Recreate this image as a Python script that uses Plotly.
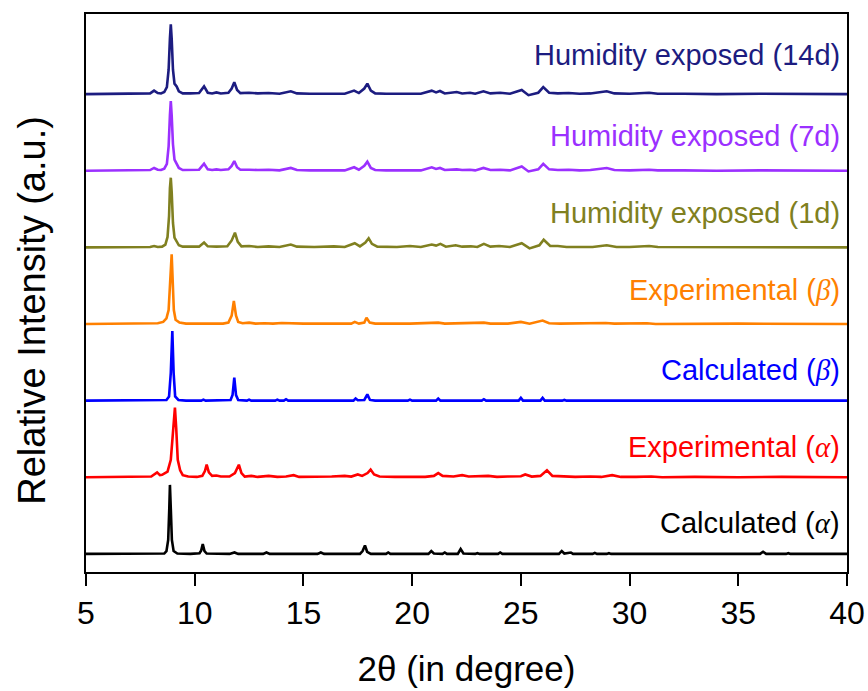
import plotly.graph_objects as go

# Powder XRD patterns: (2-theta in degrees, relative intensity) pairs traced along each pattern
calc_alpha = [
    (5.0, 0), (7.0, 0), (8.4, 0), (8.6, 0.5), (8.7, 4), (8.78, 20), (8.83, 65), (8.86, 99),
    (8.9, 65), (8.95, 20), (9.03, 4), (9.2, 0.5), (9.8, 0), (10.22, 1), (10.3, 5), (10.37, 14),
    (10.45, 4), (10.55, 0.5), (11.6, 0), (11.83, 2), (12.0, 0), (13.15, 0), (13.3, 2), (13.45, 0),
    (15.65, 0), (15.8, 2), (15.95, 0), (16.3, 0), (16.4, 1), (16.5, 0), (17.6, 0), (17.72, 4),
    (17.83, 12), (17.93, 3), (18.1, 0), (18.8, 0), (18.9, 2), (19.0, 0), (19.4, 0), (19.5, 1),
    (19.6, 0), (20.75, 0), (20.88, 4), (21.0, 0.5), (21.4, 0), (21.5, 2), (21.6, 0), (22.1, 0),
    (22.23, 7), (22.36, 0.5), (22.9, 0), (23.0, 1), (23.1, 0), (23.95, 0), (24.05, 2), (24.15, 0),
    (26.75, 0), (26.88, 4), (27.0, 0.5), (27.3, 2), (27.4, 0), (28.3, 0), (28.4, 1.5), (28.5, 0),
    (28.95, 0), (29.05, 1), (29.15, 0), (32.4, 0), (32.5, 1), (32.6, 0), (34.4, 0), (34.5, 1),
    (34.6, 0), (36.0, 0), (36.14, 3), (36.28, 0), (37.2, 0), (37.3, 1), (37.4, 0), (38.7, 0.5),
    (40.0, 0),
]

exp_alpha = [
    (5.0, 0), (6.2, 0.5), (7.0, 0), (7.6, 0.5), (8.0, 1), (8.27, 7), (8.4, 3), (8.5, 3.5),
    (8.75, 8), (8.9, 25), (9.0, 65), (9.09, 100), (9.15, 70), (9.22, 25), (9.33, 10), (9.45, 3),
    (9.7, 1), (10.1, 0.5), (10.35, 2), (10.47, 9), (10.55, 18), (10.65, 7), (10.8, 2), (11.0, 2.5),
    (11.2, 1), (11.6, 1), (11.85, 6), (12.03, 18), (12.15, 6), (12.3, 1), (12.6, 2), (12.9, 0.5),
    (13.4, 2), (13.8, 0.5), (14.2, 1), (14.55, 3), (14.8, 0.5), (15.6, 0.5), (16.3, 1), (16.9, 2),
    (17.2, 1), (17.5, 4), (17.7, 2), (17.95, 6), (18.09, 11), (18.25, 4), (18.5, 1), (19.2, 0.5),
    (20.0, 1), (20.6, 0.5), (21.0, 2), (21.2, 6), (21.4, 2), (21.6, 2), (21.9, 1), (22.3, 3),
    (22.6, 1), (23.5, 2), (23.9, 0.5), (24.4, 1), (25.0, 1.5), (25.2, 4), (25.5, 1), (25.9, 2),
    (26.2, 10), (26.45, 2), (26.9, 1.5), (27.5, 0.5), (28.2, 1), (28.7, 0.5), (29.2, 3), (29.6, 0.5),
    (30.3, 0.5), (31.0, 1), (31.5, 0), (33.0, 0.5), (35.0, 0), (37.0, 0.5), (40.0, 0),
]

calc_beta = [
    (5.0, 0), (6.9, 0), (7.0, 1), (7.1, 0), (7.6, 0), (7.7, 1), (7.8, 0), (8.3, 0),
    (8.4, 1), (8.5, 0), (8.7, 1), (8.82, 6), (8.9, 40), (8.97, 100), (9.03, 40), (9.1, 6),
    (9.25, 1), (9.6, 0), (10.3, 0), (10.4, 1.5), (10.5, 0), (11.65, 1), (11.74, 8), (11.82, 33),
    (11.9, 8), (12.0, 1), (12.4, 0), (12.5, 1.5), (12.6, 0), (13.7, 0), (13.8, 1.5), (13.9, 0),
    (14.1, 0), (14.2, 2), (14.3, 0), (17.3, 0), (17.4, 3), (17.5, 0.5), (17.8, 1), (17.94, 9),
    (18.06, 1), (18.3, 0), (19.8, 0), (19.9, 1.5), (20.0, 0), (21.1, 0), (21.2, 3), (21.3, 0),
    (23.2, 0), (23.3, 2), (23.4, 0), (24.9, 0), (25.0, 4), (25.1, 0), (25.9, 0), (26.0, 4),
    (26.1, 0), (26.9, 0), (27.0, 1), (27.1, 0), (28.8, 0), (28.9, 1), (29.0, 0), (30.7, 0),
    (30.8, 1), (30.9, 0), (40.0, 0),
]

exp_beta = [
    (5.0, 0), (6.5, 0.5), (7.5, 0), (8.0, 0.5), (8.3, 1), (8.55, 3), (8.7, 8), (8.8, 20),
    (8.87, 55), (8.94, 100), (8.99, 60), (9.04, 20), (9.12, 6), (9.3, 2), (9.6, 0.5), (10.2, 0.5),
    (10.4, 1.5), (10.6, 0.5), (11.0, 1), (11.3, 0.5), (11.55, 2), (11.7, 12), (11.8, 33), (11.9, 12),
    (12.0, 3), (12.2, 1), (12.5, 2), (12.8, 0.5), (13.2, 1), (13.6, 0.5), (14.0, 1.5), (14.5, 1),
    (15.0, 0.5), (16.4, 0.5), (17.2, 0.5), (17.36, 3), (17.55, 0.5), (17.8, 2), (17.9, 9), (18.05, 2),
    (18.3, 0.5), (19.9, 0.5), (21.2, 2), (21.5, 0.5), (23.3, 2), (23.6, 0.5), (24.0, 1), (24.4, 0.5),
    (25.0, 3), (25.4, 0.5), (26.0, 5), (26.3, 1), (26.8, 0.5), (27.5, 1), (28.0, 0.5), (28.9, 1.5),
    (29.3, 0.5), (30.8, 1), (31.2, 0), (35.0, 0.5), (40.0, 0),
]

humid_1d = [
    (5.0, 0), (6.3, 0.5), (7.0, 0), (7.8, 0.5), (7.95, 0.5), (8.13, 2), (8.3, 0.5), (8.5, 1),
    (8.65, 4), (8.75, 15), (8.82, 45), (8.86, 85), (8.9, 100), (8.94, 80), (9.0, 35), (9.07, 14),
    (9.17, 9), (9.27, 3), (9.45, 1), (10.2, 1), (10.43, 7), (10.6, 1.5), (11.0, 1), (11.5, 1.5),
    (11.7, 10), (11.85, 21), (11.98, 8), (12.15, 1.5), (12.5, 2), (12.9, 0.5), (13.4, 1.5), (13.9, 0.5),
    (14.42, 4), (14.7, 1), (15.5, 0.5), (16.4, 1.5), (16.9, 0.5), (17.36, 6), (17.6, 1.5), (17.85, 7),
    (18.0, 13), (18.15, 5), (18.4, 1), (19.3, 0.5), (19.9, 2), (20.4, 0.5), (20.9, 4), (21.1, 2.5),
    (21.3, 5), (21.55, 1), (22.0, 3), (22.3, 1), (22.7, 1.5), (23.0, 0.5), (23.3, 5), (23.6, 1),
    (24.0, 2), (24.5, 0.5), (25.04, 6), (25.4, -1.5), (25.85, 3), (26.05, 11), (26.35, 2), (26.7, 2),
    (27.1, 0.5), (27.8, 1), (28.3, 0.5), (28.95, 3), (29.4, 0.5), (30.0, 0.5), (30.9, 2), (31.3, 0.5),
    (33.0, 0.5), (35.0, 0), (37.0, 0.5), (40.0, 0),
]

humid_7d = [
    (5.0, 0), (6.0, 0.5), (7.0, 0), (7.6, 0.5), (7.95, 1), (8.13, 4), (8.3, 1.5), (8.45, 1),
    (8.6, 3), (8.72, 10), (8.8, 35), (8.86, 80), (8.9, 100), (8.94, 80), (9.0, 38), (9.07, 16),
    (9.17, 10), (9.27, 4), (9.45, 1), (9.8, 1), (10.2, 1.5), (10.43, 10), (10.6, 2), (10.8, 1),
    (11.0, 2), (11.2, 1), (11.55, 2), (11.7, 7), (11.82, 14), (11.95, 5), (12.1, 1.5), (12.5, 1.5),
    (12.9, 1), (13.4, 1.5), (13.9, 0.5), (14.42, 4), (14.7, 1), (15.3, 0.5), (16.0, 0.5), (16.4, 1.5),
    (16.9, 0.5), (17.33, 5), (17.55, 1.5), (17.8, 7), (17.94, 13), (18.1, 4), (18.3, 1), (18.8, 0.5),
    (19.3, 0.5), (19.9, 1), (20.4, 0.5), (20.9, 5), (21.1, 2.5), (21.28, 4), (21.5, 1), (22.05, 2),
    (22.3, 1), (22.66, 1.5), (22.9, 0.5), (23.28, 4), (23.6, 1), (24.05, 1.5), (24.5, 0.5), (25.04, 6),
    (25.35, -1), (25.8, 2), (26.03, 10), (26.3, 2), (26.7, 1), (27.2, 1.5), (27.7, 0.5), (28.2, 1),
    (28.95, 4), (29.3, 1), (30.0, 0.5), (30.9, 1.5), (31.3, 0.5), (32.5, 0.5), (34.0, 0), (36.0, 0.5),
    (38.0, 0), (40.0, 0),
]

humid_14d = [
    (5.0, 0), (6.0, 0.5), (7.0, 0), (7.6, 0.5), (7.95, 1), (8.13, 5), (8.3, 1.5), (8.45, 1),
    (8.6, 3), (8.72, 10), (8.8, 35), (8.86, 80), (8.9, 100), (8.94, 80), (9.0, 35), (9.07, 15),
    (9.17, 11), (9.27, 4), (9.45, 1), (9.8, 1), (10.2, 1.5), (10.43, 11), (10.6, 2), (10.8, 1),
    (11.0, 2.5), (11.2, 1), (11.55, 2), (11.7, 8), (11.82, 17), (11.95, 6), (12.1, 1.5), (12.5, 2),
    (12.9, 1), (13.4, 1.5), (13.9, 0.5), (14.42, 4), (14.7, 1), (15.3, 0.5), (16.0, 0.5), (16.4, 1.5),
    (16.9, 0.5), (17.33, 5), (17.55, 1.5), (17.8, 8), (17.94, 15), (18.1, 5), (18.3, 1), (18.8, 0.5),
    (19.3, 0.5), (19.9, 1.5), (20.4, 0.5), (20.9, 5), (21.1, 2.5), (21.28, 4.5), (21.5, 1), (22.05, 3),
    (22.3, 1), (22.66, 2), (22.9, 0.5), (23.28, 4), (23.6, 1), (24.05, 2), (24.5, 0.5), (25.04, 6),
    (25.35, -1.5), (25.8, 2), (26.03, 10), (26.3, 2), (26.7, 1), (27.2, 1.5), (27.7, 0.5), (28.2, 1),
    (28.95, 4), (29.3, 1), (30.0, 0.5), (30.9, 2), (31.3, 0.5), (32.5, 0.5), (34.0, 0), (36.0, 0.5),
    (38.0, 0), (40.0, 0),
]

series_names = [
    "Calculated (α)", "Experimental (α)", "Calculated (β)", "Experimental (β)",
    "Humidity exposed (1d)", "Humidity exposed (7d)", "Humidity exposed (14d)",
]
series_data = [calc_alpha, exp_alpha, calc_beta, exp_beta, humid_1d, humid_7d, humid_14d]

# Styling and stacking
greek = '<span style="font-family:Liberation Serif"><i>{}</i></span>'
label_texts = [
    "Calculated (" + greek.format("α") + ")",
    "Experimental (" + greek.format("α") + ")",
    "Calculated (" + greek.format("β") + ")",
    "Experimental (" + greek.format("β") + ")",
    "Humidity exposed (1d)",
    "Humidity exposed (7d)",
    "Humidity exposed (14d)",
]
colors = ["#000000", "#ff0000", "#0000ff", "#ff8000", "#808020", "#9b30ff", "#1c1c80"]
stack_step = 110
label_lift = [44, 43, 44, 49, 50, 50, 56]

SANS = "Arial, Liberation Sans, sans-serif"

fig = go.Figure()
for i, (name, pts) in enumerate(zip(series_names, series_data)):
    offset = i * stack_step
    fig.add_trace(go.Scatter(
        x=[p[0] for p in pts],
        y=[p[1] + offset for p in pts],
        mode="lines",
        name=name,
        line=dict(color=colors[i], width=2.6),
        showlegend=False,
    ))
    fig.add_annotation(
        x=39.78, y=offset + label_lift[i], xref="x", yref="y",
        text=label_texts[i], showarrow=False, xanchor="right", yanchor="middle",
        font=dict(family=SANS, size=29, color=colors[i]),
    )

fig.add_annotation(
    x=-0.071, y=0.47, xref="paper", yref="paper",
    text="Relative Intensity (a.u.)", textangle=-90, showarrow=False,
    xanchor="center", yanchor="middle",
    font=dict(family=SANS, size=38, color="black"),
)

fig.update_layout(
    width=868, height=691,
    margin=dict(l=86, r=21, t=14, b=119),
    paper_bgcolor="white", plot_bgcolor="white",
    xaxis=dict(
        range=[5, 40], tickvals=[5, 10, 15, 20, 25, 30, 35, 40],
        ticks="outside", ticklen=12, tickwidth=2, tickcolor="black",
        ticklabelstandoff=0,
        showline=True, linewidth=2, linecolor="black", mirror=True,
        showgrid=False, zeroline=False,
        tickfont=dict(family=SANS, size=32, color="black"),
        title=dict(text="2θ (in degree)", standoff=26,
                   font=dict(family=SANS, size=35, color="black")),
        automargin=False,
    ),
    yaxis=dict(
        range=[-26, 775], showticklabels=False, ticks="",
        showline=True, linewidth=2, linecolor="black", mirror=True,
        showgrid=False, zeroline=False, automargin=False,
    ),
)

fig.write_html("out.html")
